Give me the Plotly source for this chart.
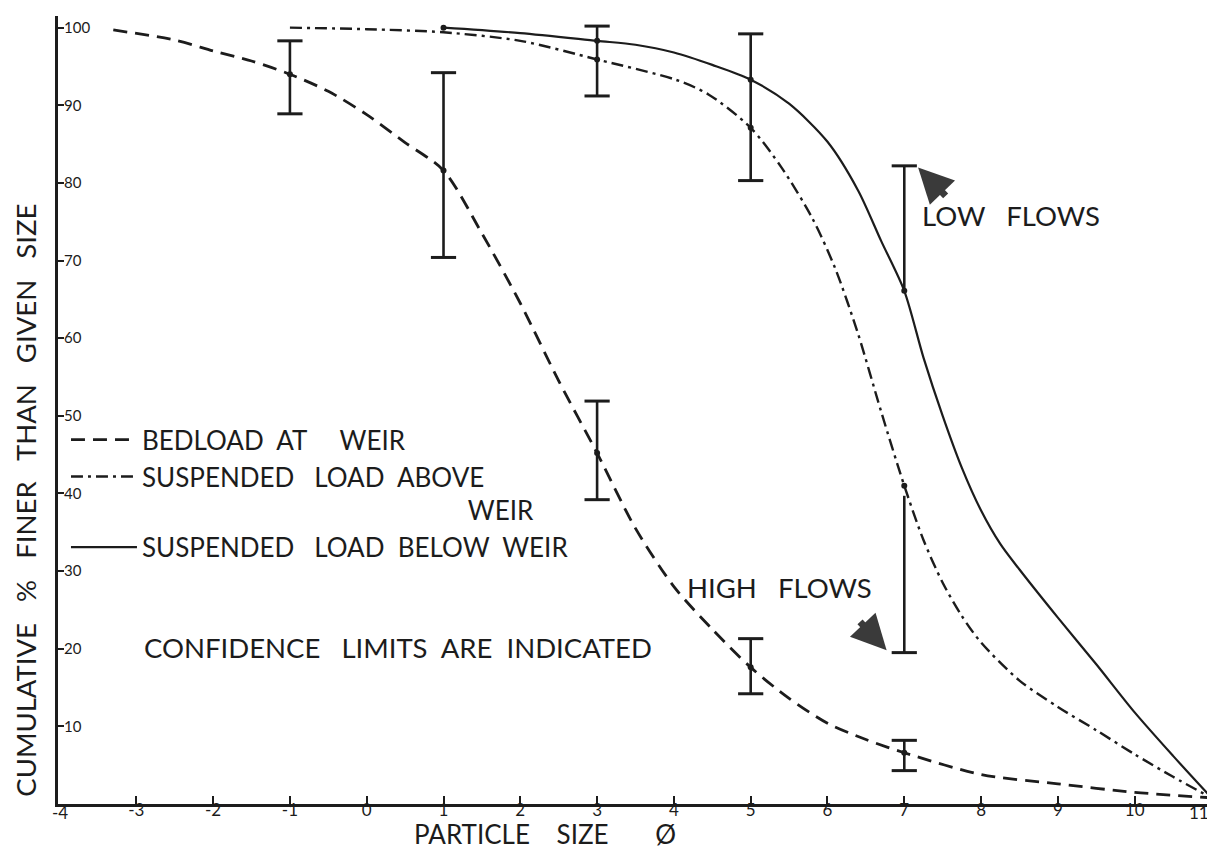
import plotly.graph_objects as go

# ---- data ----
bed_x = [-3.3, -2.5, -2, -1.5, -1, -0.5, 0, 0.5, 1, 1.5, 2, 2.5, 3, 3.5, 4, 4.5, 5, 5.5, 6, 6.5, 7, 8, 9, 10, 11]
bed_y = [99.7, 98.4, 97.0, 95.7, 94.0, 91.8, 88.8, 85.2, 81.6, 73.5, 64.5, 54.5, 45.2, 35.5, 28.0, 22.5, 17.6, 13.6, 10.4, 8.3, 6.6, 3.8, 2.6, 1.5, 0.8]

above_x = [-1, 0, 1, 2, 3, 4.02, 4.45, 5, 5.4, 5.8, 6.1, 6.4, 6.7, 7, 7.25, 7.5, 7.75, 8, 8.5, 9, 9.5, 10, 10.5, 11]
above_y = [100, 99.8, 99.4, 98.3, 95.9, 93.3, 91.4, 87.1, 82.0, 75.5, 69.0, 60.5, 50.5, 41.0, 34.0, 28.5, 24.2, 20.8, 15.9, 12.5, 9.5, 6.4, 3.5, 0.8]

below_x = [1, 2, 3, 3.5, 4, 4.5, 5, 5.5, 6, 6.4, 6.7, 7, 7.25, 7.5, 7.75, 8, 8.25, 8.5, 9, 9.5, 10, 10.5, 11]
below_y = [100, 99.3, 98.3, 97.8, 96.8, 95.2, 93.3, 90.2, 85.3, 79.0, 72.5, 66.1, 57.5, 50.0, 43.3, 37.8, 33.5, 30.2, 24.0, 18.0, 11.8, 6.2, 0.8]

# measured points (dots on the curves)
pts_x = [-1, 1, 3, 5, 7, 3, 5, 7, 1, 3, 5, 7]
pts_y = [94.0, 81.6, 45.2, 17.6, 6.6, 95.9, 87.1, 41.0, 100, 98.3, 93.3, 66.1]

# confidence limits
conf_x = [-1, 1, 3, 5, 7, 3, 5, 7, 7]
conf_lo = [88.9, 70.4, 39.2, 14.2, 4.3, 91.2, 80.3, 66.1, 19.5]
conf_hi = [98.3, 94.2, 51.9, 21.3, 8.2, 100.2, 99.2, 82.2, 39.7]
cap_lo = [True, True, True, True, True, True, True, False, True]
cap_hi = [True, True, True, True, True, True, True, True, False]

x_ticks = list(range(-4, 12))
x_ticktext = [str(v) for v in x_ticks]
y_ticks = [10, 20, 30, 40, 50, 60, 70, 80, 90, 100]

INK = "#1c1c1c"
FONT = "Lato"
NB = "\u00a0"

fig = go.Figure()

fig.add_trace(go.Scatter(
    x=bed_x, y=bed_y, mode="lines", name="BEDLOAD" + NB * 2 + "AT" + NB * 5 + "WEIR",
    line=dict(color=INK, width=2.8, dash="14px,8px", shape="spline", smoothing=0.8),
    legendgroup="a"))
fig.add_trace(go.Scatter(
    x=above_x, y=above_y, mode="lines",
    name="SUSPENDED" + NB * 3 + "LOAD" + NB * 2 + "ABOVE<br>" + NB * 49 + "WEIR",
    line=dict(color=INK, width=2.4, dash="12px,5px,3px,5px", shape="spline", smoothing=0.8),
    legendgroup="b"))
fig.add_trace(go.Scatter(
    x=below_x, y=below_y, mode="lines",
    name="SUSPENDED" + NB * 3 + "LOAD" + NB * 2 + "BELOW" + NB * 2 + "WEIR",
    line=dict(color=INK, width=2.2, shape="spline", smoothing=0.8),
    legendgroup="c"))

# confidence bars
bx, by = [], []
for x, lo, hi in zip(conf_x, conf_lo, conf_hi):
    bx += [x, x, None]
    by += [lo, hi, None]
fig.add_trace(go.Scatter(x=bx, y=by, mode="lines", line=dict(color=INK, width=2.6),
                         showlegend=False, hoverinfo="skip"))
cx = [x for x, f in zip(conf_x, cap_lo) if f] + [x for x, f in zip(conf_x, cap_hi) if f]
cy = [v for v, f in zip(conf_lo, cap_lo) if f] + [v for v, f in zip(conf_hi, cap_hi) if f]
fig.add_trace(go.Scatter(x=cx, y=cy, mode="markers",
                         marker=dict(symbol="line-ew", size=18, line=dict(color=INK, width=3)),
                         showlegend=False, hoverinfo="skip"))
fig.add_trace(go.Scatter(x=pts_x, y=pts_y, mode="markers",
                         marker=dict(color=INK, size=6), showlegend=False, hoverinfo="skip"))

# axis tick labels: the two corner labels are placed as annotations (plotly hides them)
axis_ticktext = ["" if i in (0, len(x_ticks) - 1) else t for i, t in enumerate(x_ticktext)]

ann_font = dict(family=FONT, size=27.5, color=INK)
tick_font = dict(family=FONT, size=17, color=INK)
annotations = [
    dict(x=-2.93, y=20.2, xref="x", yref="y",
         text="CONFIDENCE" + NB * 3 + "LIMITS" + NB * 2 + "ARE" + NB * 2 + "INDICATED",
         showarrow=False, xanchor="left", yanchor="middle", font=ann_font),
    dict(x=4.14, y=27.9, xref="x", yref="y", text="HIGH" + NB * 3 + "FLOWS",
         showarrow=False, xanchor="left", yanchor="middle", font=ann_font),
    dict(x=7.2, y=75.8, xref="x", yref="y", text="LOW" + NB * 3 + "FLOWS",
         showarrow=False, xanchor="left", yanchor="middle", font=ann_font),
    # arrows
    dict(x=7.18, y=82.0, xref="x", yref="y", ax=29, ay=30, text="", showarrow=True,
         arrowhead=2, arrowsize=1.0, arrowwidth=7, arrowcolor="#3a3a3a"),
    dict(x=6.77, y=19.8, xref="x", yref="y", ax=-28, ay=-30, text="", showarrow=True,
         arrowhead=2, arrowsize=1.0, arrowwidth=7, arrowcolor="#3a3a3a"),
    # corner x tick labels
    dict(x=x_ticks[0], y=-0.0105, xref="x", yref="paper", text=x_ticktext[0],
         showarrow=False, xanchor="center", yanchor="middle", font=tick_font),
    dict(x=x_ticks[-1], y=-0.0105, xref="x", yref="paper", text=x_ticktext[-1],
         showarrow=False, xanchor="right", yanchor="middle", font=tick_font),
    # axis titles
    dict(x=-0.0277, y=0.385, xref="paper", yref="paper",
         text="CUMULATIVE" + NB * 3 + "%" + NB * 3 + "FINER" + NB * 3 + "THAN" + NB * 3 +
              "GIVEN" + NB * 3 + "SIZE",
         textangle=-90, showarrow=False, xanchor="center", yanchor="middle", font=ann_font),
    dict(x=0.422, y=-0.0605, xref="paper", yref="paper",
         text="PARTICLE" + NB * 4 + "SIZE" + NB * 7 + "\u00d8",
         showarrow=False, xanchor="center", yanchor="bottom",
         font=dict(family=FONT, size=26, color=INK)),
]

fig.update_layout(
    width=1215, height=848,
    margin=dict(l=50, r=10, t=8, b=52),
    paper_bgcolor="white", plot_bgcolor="white",
    font=dict(family=FONT, color=INK),
    annotations=annotations,
    legend=dict(x=0.0069, y=0.492, xanchor="left", yanchor="top",
                font=dict(family=FONT, size=26, color=INK),
                bgcolor="rgba(0,0,0,0)", itemwidth=66, tracegroupgap=0, valign="top"),
    xaxis=dict(range=[-4.02, 11.02], tickvals=x_ticks, ticktext=axis_ticktext,
               showline=True, linecolor=INK, linewidth=3, ticks="inside", ticklen=8,
               tickwidth=2, tickcolor=INK, showgrid=False, zeroline=False,
               ticklabelstandoff=-11, ticklabeloverflow="allow",
               tickfont=tick_font),
    yaxis=dict(range=[0, 101.5], tickvals=y_ticks,
               showline=True, linecolor=INK, linewidth=3, ticks="inside", ticklen=6,
               tickwidth=2, tickcolor=INK, showgrid=False, zeroline=False,
               ticklabelposition="inside", ticklabelstandoff=0,
               tickfont=dict(family=FONT, size=15, color=INK)),
)

fig.write_html("out.html")
